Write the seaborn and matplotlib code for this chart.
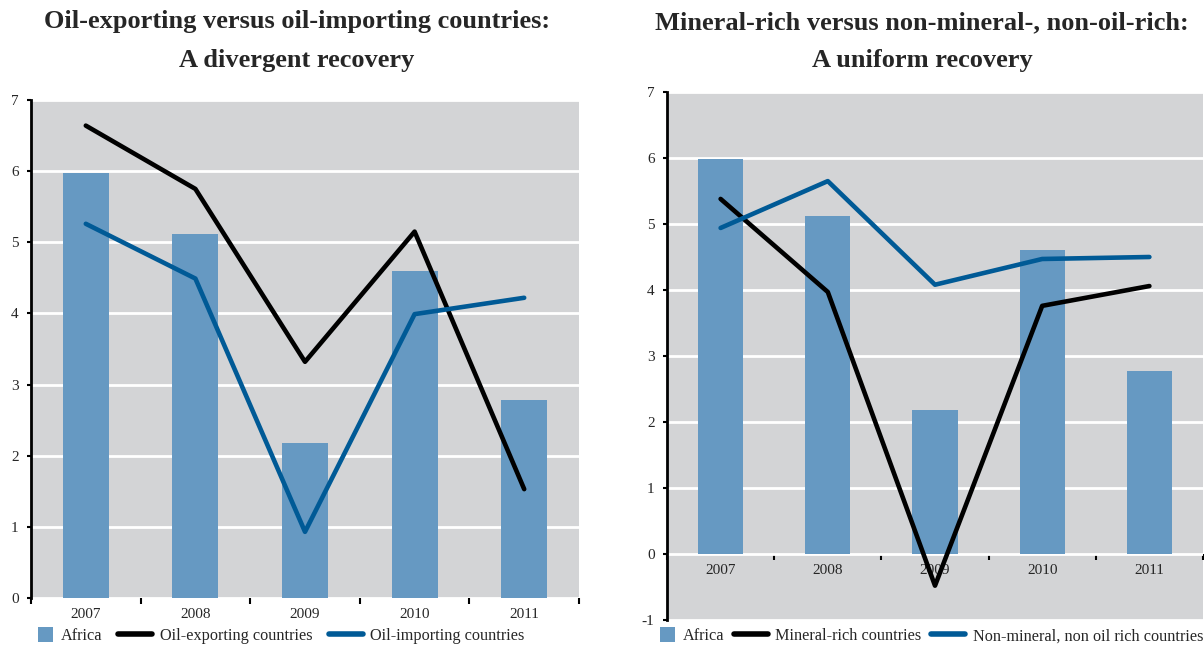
import numpy as np
import pandas as pd
import matplotlib
matplotlib.use("Agg")
import matplotlib.pyplot as plt
import seaborn as sns
from matplotlib.patches import Patch, Rectangle
from matplotlib.lines import Line2D
from matplotlib.legend_handler import HandlerPatch

# -----------------------------
# Data
# -----------------------------
years = ["2007", "2008", "2009", "2010", "2011"]
africa = [5.98, 5.12, 2.18, 4.60, 2.78]

oil_exporting = [6.64, 5.75, 3.32, 5.15, 1.53]
oil_importing = [5.26, 4.49, 0.93, 3.99, 4.22]

mineral_rich = [5.38, 3.97, -0.48, 3.76, 4.06]
non_mineral = [4.94, 5.65, 4.08, 4.47, 4.50]

left_title = "Oil-exporting versus oil-importing countries:\nA divergent recovery"
right_title = "Mineral-rich versus non-mineral-, non-oil-rich:\nA uniform recovery"

# -----------------------------
# Style
# -----------------------------
sns.set_theme(style="white")
plt.rcParams["font.family"] = ["Liberation Serif", "DejaVu Serif"]
plt.rcParams["axes.unicode_minus"] = False

bg = "#d3d4d6"
bar_col = "#6699c2"
black = "#000000"
blue = "#005a96"

fig = plt.figure(figsize=(12.04, 6.46), dpi=100)
ax1 = fig.add_axes([31 / 1204, 1 - 598 / 646, 548 / 1204, 498 / 646])
ax2 = fig.add_axes([667 / 1204, 1 - 620 / 646, 536 / 1204, 528 / 646])


# small square legend key, sitting next to its label
def square_key(legend, orig_handle, xdescent, ydescent, width, height, fontsize):
    s = height * 1.15
    return Rectangle((-xdescent + width - s, -ydescent + (height - s) / 2), s, s)


def draw(ax, line_a, line_b, ylim, label_a, label_b):
    df = pd.DataFrame({"year": years, "Africa": africa})
    ax.set_facecolor(bg)
    ax.set_axisbelow(True)
    sns.barplot(data=df, x="year", y="Africa", color=bar_col, width=0.42,
                saturation=1, linewidth=0, edgecolor=bar_col, ax=ax, zorder=2)
    pos = np.arange(len(years))
    sns.lineplot(x=pos, y=line_a, color=black, linewidth=3.3, ax=ax, zorder=3,
                 solid_capstyle="round")
    sns.lineplot(x=pos, y=line_b, color=blue, linewidth=3.3, ax=ax, zorder=3,
                 solid_capstyle="round")
    ax.set_xlim(-0.5, len(years) - 0.5)
    ax.set_ylim(*ylim)
    ax.set_yticks(range(ylim[0], ylim[1] + 1))
    ax.yaxis.grid(True, color="white", linewidth=2)
    ax.set_xlabel("")
    ax.set_ylabel("")
    for s in ["top", "right"]:
        ax.spines[s].set_visible(False)
    ax.spines["left"].set_color(black)
    ax.spines["left"].set_linewidth(2)
    ax.spines["bottom"].set_visible(False)
    ax.tick_params(axis="y", left=True, length=3, width=1.5, color=black,
                   labelsize=11, pad=6)
    # labels at centers, tick marks at category boundaries
    ax.set_xticks(pos)
    ax.set_xticklabels(years)
    ax.set_xticks(np.arange(-0.5, len(years)), minor=True)
    ax.tick_params(axis="x", which="major", length=0, labelsize=11, pad=7)
    ax.tick_params(axis="x", which="minor", bottom=True, length=4, width=1.5,
                   color=black)
    handles = [
        Patch(facecolor=bar_col, edgecolor="none", label="Africa"),
        Line2D([], [], color=black, linewidth=4, solid_capstyle="round", label=label_a),
        Line2D([], [], color=blue, linewidth=4, solid_capstyle="round", label=label_b),
    ]
    return handles


h1 = draw(ax1, oil_exporting, oil_importing, (0, 7),
          "Oil-exporting countries", "Oil-importing countries")
h2 = draw(ax2, mineral_rich, non_mineral, (-1, 7),
          "Mineral-rich countries", "Non-mineral, non oil rich countries")
ax2.spines["bottom"].set_position(("data", 0))

leg_kw = dict(loc="center left", ncol=3, frameon=False, fontsize=11.7,
              handlelength=2.1, handleheight=0.9,
              handletextpad=0.45, borderaxespad=0, borderpad=0,
              handler_map={Patch: HandlerPatch(patch_func=square_key)})
fig.legend(handles=h1, bbox_to_anchor=(19 / 1204, 1 - 636 / 646),
           columnspacing=1.0, **leg_kw)
fig.legend(handles=h2, bbox_to_anchor=(641 / 1204, 1 - 636 / 646),
           columnspacing=0.6, **leg_kw)

fig.text(297 / 1204, 1 - 41 / 646, left_title, ha="center", va="center",
         fontsize=19, fontweight="bold", linespacing=1.9)
fig.text(922 / 1204, 1 - 42 / 646, right_title, ha="center", va="center",
         fontsize=19, fontweight="bold", linespacing=1.8)

fig.savefig("out.png", dpi=100)
